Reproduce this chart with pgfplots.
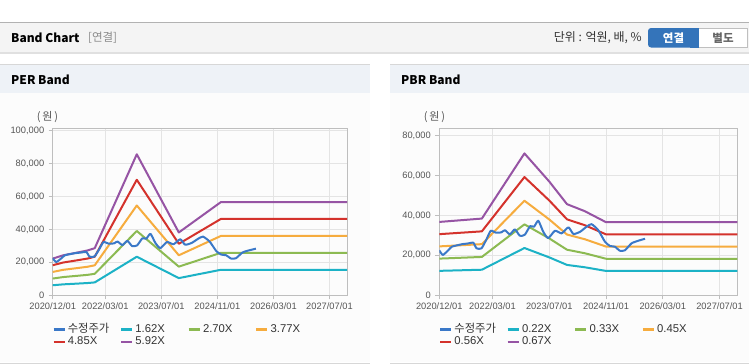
\documentclass[border=0pt]{standalone}
\usepackage{fontspec}
\setmainfont{Liberation Sans}
\newfontfamily\kr{Noto Sans CJK KR}
\usepackage{pgfplots}
\usepackage{pgfplotstable}
\pgfplotsset{compat=1.18}

\definecolor{cPrice}{RGB}{58,120,200}
\definecolor{cCyan}{RGB}{28,178,198}
\definecolor{cGreen}{RGB}{140,186,82}
\definecolor{cOrange}{RGB}{246,172,62}
\definecolor{cRed}{RGB}{212,50,44}
\definecolor{cPurple}{RGB}{150,84,164}
\definecolor{cTick}{RGB}{85,85,85}
\definecolor{cGrid}{RGB}{228,228,228}
\definecolor{cAxis}{RGB}{190,190,190}
\definecolor{cHead}{RGB}{244,244,244}
\definecolor{cPanel}{RGB}{238,242,247}
\definecolor{cBody}{RGB}{252,252,252}
\definecolor{cLine}{RGB}{215,215,215}
\definecolor{cBtn}{RGB}{52,116,186}

% months since 2020/12, band values
\pgfplotstableread{
m c1 c2 c3 c4 c5
0 6091 10152 14175 18236 22259
3 6642 11070 15457 19885 24272
7 7096 11826 16513 21243 25930
10 7452 12420 17342 22310 27232
12 7825 13041 18209 23426 28594
24 23409 39015 54477 70083 85544
36 10433 17388 24279 31234 38125
48 15471 25785 36004 46318 56536
84 15471 25785 36004 46318 56536
}\perdata
\pgfplotstableread{
m c1 c2 c3 c4 c5
0 12235 18356 24471 30591 36706
12 12797 19198 25593 31994 38390
24 23662 35499 47325 59161 70987
31 18970 28460 37941 47430 56911
36 15199 22801 30397 38000 45596
41 14031 21050 28063 35081 42094
47 12190 18288 24381 30479 36571
84 12190 18288 24381 30479 36571
}\pbrdata
\pgfplotstableread{
m p
0 22500
1 20200
2.5 22500
3.5 24300
5 25000
6.5 25600
8 25900
9.6 26300
10.5 23500
11.9 23500
13.3 28000
14.5 32300
16 31300
17.5 31500
18.5 32600
19.9 30500
21.3 33000
22.7 29800
24.1 30300
25.6 34600
26.7 34300
27.9 37300
29.3 31800
30.7 28600
32.6 32300
34.5 31000
36.4 34000
37.8 30700
39.7 31800
41.5 34300
42.9 35600
44.8 32600
46.7 26800
48.1 24700
49.5 24300
50.9 22300
52.3 22500
54.2 26000
56.1 27300
58 28300
}\pricedata

\pgfplotsset{
  bandaxis/.style={
    scale only axis,
    anchor=south west,
    height=166.5bp,
    xmin=0, xmax=84, ymin=0,
    scaled y ticks=false,
    xtick={0,15,31,47,63,79},
    xticklabels={2020/12/01,2022/03/01,2023/07/01,2024/11/01,2026/03/01,2027/07/01},
    tick align=outside,
    tick pos=left,
    major tick length=4bp,
    tick style={cAxis, line width=0.6bp},
    axis line style={cAxis, line width=0.8bp},
    grid=major,
    major grid style={cGrid, line width=0.7bp},
    ticklabel style={font=\fontsize{9.3bp}{10bp}\selectfont, text=cTick},
    yticklabel style={xshift=-1bp},
    /pgf/number format/assume math mode=true,
    legend columns=4,
    legend cell align=left,
    legend image code/.code={\draw[##1, line width=2.6bp] (0bp,0bp) -- (11bp,0bp);},
    legend style={draw=none, fill=none, at={(0,0)}, anchor=north west,
      yshift=-28bp, xshift=-0.5bp,
      font=\fontsize{11.3bp}{13bp}\selectfont, text=black!80,
      inner sep=0pt, outer sep=0pt, row sep=0pt,
      nodes={inner sep=0pt, text height=9bp, text depth=3.5bp},
      /tikz/every odd column/.append style={column sep=2bp}},
    every axis plot/.append style={line width=2bp, line join=round},
  }
}

\begin{document}
\begin{tikzpicture}
\path[use as bounding box, fill=white] (0bp,0bp) rectangle (749bp,-364bp);
% header bar
\fill[cHead] (0bp,-22bp) rectangle (749bp,-52bp);
\draw[black!30, line width=1bp] (0bp,-22.5bp) -- (749bp,-22.5bp);
\draw[black!12, line width=1.5bp] (0bp,-53bp) -- (749bp,-53bp);
\node[anchor=west, inner sep=0pt, font=\kr\bfseries\fontsize{12bp}{14bp}\selectfont] at (11bp,-38bp) {Band Chart};
\node[anchor=west, inner sep=0pt, font=\kr\fontsize{11.5bp}{13bp}\selectfont, text=black!45] at (88bp,-38bp) {[연결]};
\node[anchor=east, inner sep=0pt, font=\kr\fontsize{12bp}{14bp}\selectfont, text=black!80] at (642bp,-38bp) {단위 : 억원, 배, \%};
\fill[cBtn, rounded corners=3bp] (648bp,-28bp) rectangle (702bp,-47.5bp);
\fill[cBtn] (690bp,-28bp) rectangle (699bp,-47.5bp);
\fill[white] (699bp,-28bp) rectangle (747bp,-47.5bp);
\draw[black!25, line width=0.8bp] (699bp,-28bp) -- (747bp,-28bp) -- (747bp,-47.5bp) -- (699bp,-47.5bp);
\node[inner sep=0pt, text=white, font=\kr\bfseries\fontsize{11.5bp}{13bp}\selectfont] at (673.5bp,-38bp) {연결};
\node[inner sep=0pt, text=black!60, font=\kr\bfseries\fontsize{11.5bp}{13bp}\selectfont] at (723bp,-38bp) {별도};
% panels
\fill[cPanel] (0bp,-64bp) rectangle (370bp,-93bp);
\fill[cPanel] (390bp,-64bp) rectangle (749bp,-93bp);
\fill[cBody] (0bp,-93bp) rectangle (370bp,-362bp);
\fill[cBody] (390bp,-93bp) rectangle (749bp,-362bp);
\draw[cLine, line width=1bp] (0bp,-64bp) -- (370bp,-64bp);
\draw[cLine, line width=1bp] (390bp,-64bp) -- (749bp,-64bp);
\draw[cLine, line width=1bp] (0bp,-363bp) -- (370bp,-363bp);
\draw[cLine, line width=1bp] (390bp,-363bp) -- (749bp,-363bp);
\node[anchor=west, inner sep=0pt, font=\kr\bfseries\fontsize{12bp}{14bp}\selectfont] at (11bp,-80bp) {PER Band};
\node[anchor=west, inner sep=0pt, font=\kr\bfseries\fontsize{12bp}{14bp}\selectfont] at (401bp,-80bp) {PBR Band};
\node[inner sep=0pt, text=cTick, font=\kr\fontsize{11bp}{12bp}\selectfont] at (47.5bp,-117bp) {(\,원\,)};
\node[inner sep=0pt, text=cTick, font=\kr\fontsize{11bp}{12bp}\selectfont] at (434.5bp,-117bp) {(\,원\,)};

% PER axis
\begin{axis}[bandaxis, at={(52.7bp,-295.3bp)}, width=294.3bp, ymax=101000,
  ytick={0,20000,40000,60000,80000,100000},
  yticklabels={0,{20,000},{40,000},{60,000},{80,000},{100,000}}]
\addlegendimage{cPrice}\addlegendentry{\makebox[52bp][l]{\kr 수정주가}}
\addplot[cCyan] table[x=m,y=c1] {\perdata};\addlegendentry{\makebox[52bp][l]{1.62X}}
\addplot[cGreen] table[x=m,y=c2] {\perdata};\addlegendentry{\makebox[52bp][l]{2.70X}}
\addplot[cOrange] table[x=m,y=c3] {\perdata};\addlegendentry{\makebox[52bp][l]{3.77X}}
\addplot[cRed] table[x=m,y=c4] {\perdata};\addlegendentry{\makebox[52bp][l]{4.85X}}
\addplot[cPurple] table[x=m,y=c5] {\perdata};\addlegendentry{\makebox[52bp][l]{5.92X}}
\addplot[cPrice, smooth, tension=0.35, forget plot] table[x=m,y=p] {\pricedata};
\end{axis}

% PBR axis
\begin{axis}[bandaxis, at={(439.3bp,-295.3bp)}, width=298bp, ymax=83300,
  ytick={0,20000,40000,60000,80000},
  yticklabels={0,{20,000},{40,000},{60,000},{80,000}}]
\addlegendimage{cPrice}\addlegendentry{\makebox[52bp][l]{\kr 수정주가}}
\addplot[cCyan] table[x=m,y=c1] {\pbrdata};\addlegendentry{\makebox[52bp][l]{0.22X}}
\addplot[cGreen] table[x=m,y=c2] {\pbrdata};\addlegendentry{\makebox[52bp][l]{0.33X}}
\addplot[cOrange] table[x=m,y=c3] {\pbrdata};\addlegendentry{\makebox[52bp][l]{0.45X}}
\addplot[cRed] table[x=m,y=c4] {\pbrdata};\addlegendentry{\makebox[52bp][l]{0.56X}}
\addplot[cPurple] table[x=m,y=c5] {\pbrdata};\addlegendentry{\makebox[52bp][l]{0.67X}}
\addplot[cPrice, smooth, tension=0.35, forget plot] table[x=m,y=p] {\pricedata};
\end{axis}
\end{tikzpicture}
\end{document}
